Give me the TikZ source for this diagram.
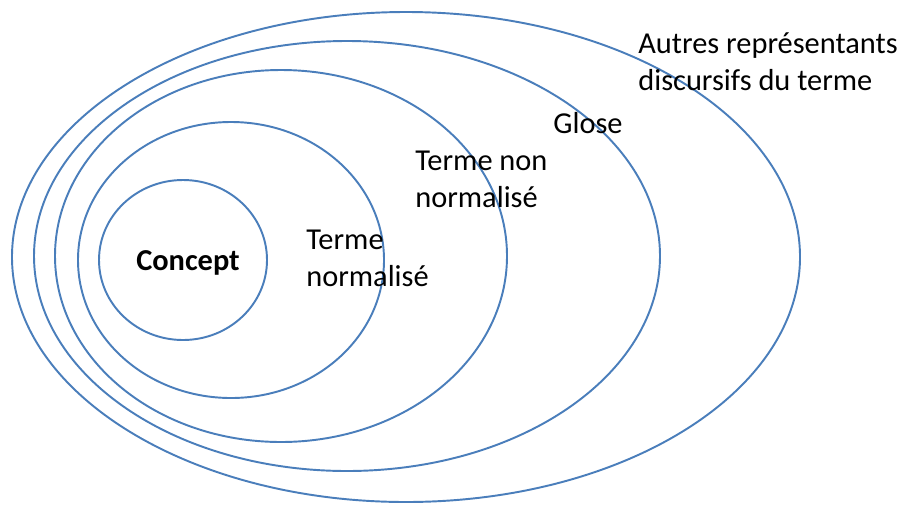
\documentclass[tikz,border=0pt]{standalone}
\usepackage{fontspec}
\setmainfont{Carlito}
\usepackage{tikz}
\definecolor{ringblue}{HTML}{4A7EBB}

\begin{document}
\begin{tikzpicture}[x=0.02cm, y=0.02cm]
  \tikzstyle{every node}+=[inner sep=0pt]
  \tikzstyle{ring}=[ringblue, line width=1.1pt]
  \tikzstyle{lbl}=[anchor=base west, align=left, font=\fontsize{17.3}{21}\selectfont]
  \useasboundingbox (0,0) rectangle (901,-504);
  \draw [ring] (406,-257) ellipse (394 and 245);
  \draw [ring] (347,-256) ellipse (313 and 215);
  \draw [ring] (281,-256) ellipse (226 and 186);
  \draw [ring] (231,-260) ellipse (153 and 138);
  \draw [ring] (183,-260) ellipse (84 and 80);
  \draw (188,-263) node (concept) {\fontsize{17.3}{21}\selectfont\bfseries Concept};
  \draw (306,-286) node [lbl] (tnorm) {Terme\\normalisé};
  \draw (415,-207) node [lbl] (tnonnorm) {Terme non\\normalisé};
  \draw (553,-133) node [lbl] (glose) {Glose};
  \draw (638,-90) node [lbl] (autres) {Autres représentants\\discursifs du terme};
\end{tikzpicture}
\end{document}
